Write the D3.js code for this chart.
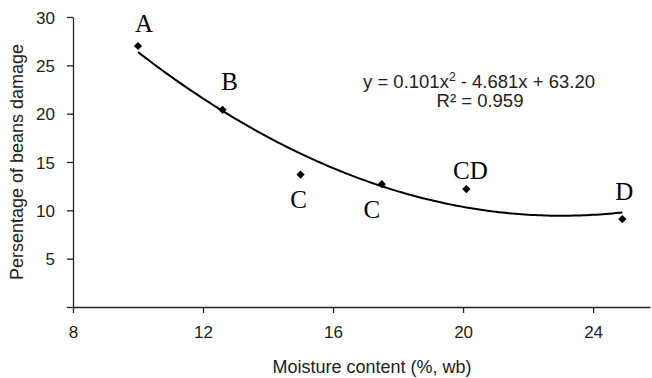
<!DOCTYPE html>
<html>
<head>
<meta charset="utf-8">
<script src="https://cdn.jsdelivr.net/npm/d3@7"></script>
<style>
    body { margin: 0; background: #fff; }
    svg { display: block; }
</style>
</head>
<body>
<div id="chart"></div>
<script>
const moisture = [10.0, 12.6, 15.0, 17.5, 20.1, 24.9],
    damage = [27.0, 20.4, 13.7, 12.7, 12.2, 9.1],
    groups = ['A', 'B', 'C', 'C', 'CD', 'D'],
    xTicks = [8, 12, 16, 20, 24],
    yTicks = [0, 5, 10, 15, 20, 25, 30],
    coef = [0.101, -4.681, 63.20],  // printed trendline: y = a x^2 + b x + c
    rSquared = 0.959;

const width = 652, height = 378;

const svg = d3.select('#chart').append('svg')
    .attr('width', width)
    .attr('height', height);

const xScale = d3.scaleLinear()
    .domain([8, 25.75])
    .range([73, 650]);

const yScale = d3.scaleLinear()
    .domain([0, 30])
    .range([307, 17]);

// axes
const xAxis = svg.append('g')
    .attr('transform', 'translate(0,' + yScale(0) + ')')
    .call(d3.axisBottom(xScale).tickValues(xTicks).tickSize(6).tickPadding(13).tickSizeOuter(0));

const yAxis = svg.append('g')
    .attr('transform', 'translate(' + xScale(8) + ',0)')
    .call(d3.axisLeft(yScale).tickValues(yTicks).tickSize(6).tickPadding(12).tickSizeOuter(0)
        .tickFormat(d => d === 0 ? '' : d));

[xAxis, yAxis].forEach(function (g) {
    g.selectAll('path, line').attr('stroke', '#222').attr('stroke-width', 1.3);
    g.selectAll('text')
        .attr('fill', '#222')
        .style('font-family', 'Liberation Sans, Arial, sans-serif')
        .style('font-size', '17px');
});
yAxis.selectAll('text').attr('dy', '0.36em');

// axis titles
svg.append('text')
    .attr('x', 372)
    .attr('y', 373)
    .attr('text-anchor', 'middle')
    .attr('fill', '#222')
    .style('font-family', 'Liberation Sans, Arial, sans-serif')
    .style('font-size', '18px')
    .text('Moisture content (%, wb)');

svg.append('text')
    .attr('transform', 'translate(23,162) rotate(-90)')
    .attr('text-anchor', 'middle')
    .attr('fill', '#222')
    .style('font-family', 'Liberation Sans, Arial, sans-serif')
    .style('font-size', '18px')
    .text('Persentage of beans damage');

// trendline: least-squares quadratic through the points (centred x)
const fitQuad = function (xv, yv) {
    const m = d3.mean(xv);
    const u = xv.map(x => x - m);
    const S = k => d3.sum(u, d => Math.pow(d, k));
    const T = k => d3.sum(u, (d, i) => Math.pow(d, k) * yv[i]);
    const A = [[S(4), S(3), S(2)], [S(3), S(2), S(1)], [S(2), S(1), u.length]];
    const B = [T(2), T(1), T(0)];
    // gaussian elimination
    for (let i = 0; i < 3; i++) {
        for (let j = i + 1; j < 3; j++) {
            const f = A[j][i] / A[i][i];
            for (let k = i; k < 3; k++) A[j][k] -= f * A[i][k];
            B[j] -= f * B[i];
        }
    }
    const c = [0, 0, 0];
    for (let i = 2; i >= 0; i--) {
        let s = B[i];
        for (let k = i + 1; k < 3; k++) s -= A[i][k] * c[k];
        c[i] = s / A[i][i];
    }
    return x => c[0] * (x - m) * (x - m) + c[1] * (x - m) + c[2];
};
const fit = fitQuad(moisture, damage);
const xs = d3.range(d3.min(moisture), d3.max(moisture) + 0.001, 0.1);

svg.append('path')
    .datum(xs)
    .attr('fill', 'none')
    .attr('stroke', '#000')
    .attr('stroke-width', 2)
    .attr('d', d3.line().x(d => xScale(d)).y(d => yScale(fit(d))));

// points
const diamond = d3.symbol().type(d3.symbolSquare).size(34);

svg.append('g').selectAll('path')
    .data(moisture)
    .join('path')
    .attr('transform', (d, i) => 'translate(' + xScale(d) + ',' + yScale(damage[i]) + ') rotate(45)')
    .attr('d', diamond)
    .attr('fill', '#000');

// significance letters
const labelShift = [[6, -14], [7, -20], [-2, 33], [-10, 34], [4, -10], [2, -19]];

svg.append('g').selectAll('text')
    .data(groups)
    .join('text')
    .attr('x', (d, i) => xScale(moisture[i]) + labelShift[i][0])
    .attr('y', (d, i) => yScale(damage[i]) + labelShift[i][1])
    .attr('text-anchor', 'middle')
    .attr('fill', '#000')
    .style('font-family', 'Liberation Serif, Times New Roman, serif')
    .style('font-size', '25px')
    .text(d => d);

// equation
const eq = svg.append('text')
    .attr('x', 479)
    .attr('y', 88)
    .attr('text-anchor', 'middle')
    .attr('fill', '#222')
    .style('font-family', 'Liberation Sans, Arial, sans-serif')
    .style('font-size', '18.5px');
eq.append('tspan').text('y = ' + coef[0].toFixed(3) + 'x');
eq.append('tspan').attr('dy', -7).style('font-size', '12px').text('2');
eq.append('tspan').attr('dy', 7).text(' - ' + Math.abs(coef[1]).toFixed(3) + 'x + ' + coef[2].toFixed(2));

svg.append('text')
    .attr('x', 480)
    .attr('y', 107)
    .attr('text-anchor', 'middle')
    .attr('fill', '#222')
    .style('font-family', 'Liberation Sans, Arial, sans-serif')
    .style('font-size', '18.5px')
    .text('R² = ' + rSquared.toFixed(3));
</script>
</body>
</html>
